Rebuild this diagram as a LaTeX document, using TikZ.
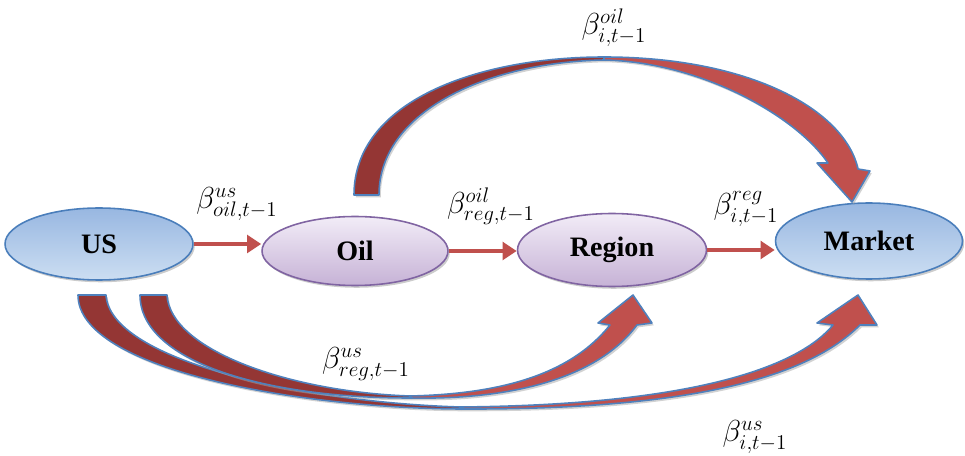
\documentclass[tikz,border=0pt]{standalone}
\usepackage{amsmath}
\usepackage{fontspec}
\setmainfont{Liberation Serif}
\usetikzlibrary{arrows.meta,shapes.geometric,shadows}

\definecolor{bandlight}{RGB}{192,80,77}
\definecolor{banddark}{RGB}{148,54,52}
\definecolor{bandline}{RGB}{79,129,189}
\definecolor{bluetop}{RGB}{152,183,225}
\definecolor{bluebot}{RGB}{204,222,242}
\definecolor{blueline}{RGB}{74,126,187}
\definecolor{purptop}{RGB}{242,236,247}
\definecolor{purpbot}{RGB}{198,178,214}
\definecolor{purpline}{RGB}{128,100,162}

\begin{document}
\begin{tikzpicture}[x=0.02cm,y=-0.02cm,
    bluestate/.style={ellipse,draw=blueline,line width=0.9pt,top color=bluetop,bottom color=bluebot,
      font=\fontsize{16}{19}\selectfont\bfseries,
      drop shadow={shadow xshift=1pt,shadow yshift=-1.3pt,fill=black!40}},
    purpstate/.style={bluestate,draw=purpline,top color=purptop,bottom color=purpbot},
    flow/.style={line width=2.8pt,bandlight,-{Triangle[length=8pt,width=10pt]}},
    band/.style={draw=bandline,line width=0.9pt,line join=round,
      drop shadow={shadow xshift=1pt,shadow yshift=-1.3pt,fill=black!35}},
    lbl/.style={font=\fontsize{17}{20}\selectfont,inner sep=0pt}]

    \useasboundingbox (0,0) rectangle (965,456);

    \node[bluestate,minimum width=3.76cm,minimum height=1.44cm] (us) at (99,244) {US};
    \node[purpstate,minimum width=3.72cm,minimum height=1.38cm] (oil) at (355,251) {Oil};
    \node[purpstate,minimum width=3.78cm,minimum height=1.46cm] (region) at (612,250) {Region};
    \node[bluestate,minimum width=3.74cm,minimum height=1.52cm] (market) at (869,241) {Market};

    \draw[flow] (us.east) -- (us.east -| oil.west);
    \draw[flow] (oil.east) -- (oil.east -| region.west);
    \draw[flow] (region.east) -- (region.east -| market.west);

    % oil -> market, over the top
    \filldraw[band,fill=banddark] (354,195) .. controls (354,100) and (480,57) .. (604,57)
        -- (604,60) .. controls (490,62) and (379,110) .. (379,195) -- cycle;
    \filldraw[band,fill=bandlight] (604,57) .. controls (750,57) and (845,110) .. (858,169)
        -- (870,171) -- (852,202) -- (817,163) -- (828,163)
        .. controls (795,115) and (700,62) .. (604,60) -- cycle;

    % us -> market, underneath
    \filldraw[band,fill=banddark] (78,295) .. controls (78,370) and (300,408) .. (460,409)
        -- (460,407) .. controls (300,402) and (110,360) .. (106,295) -- cycle;
    \filldraw[band,fill=bandlight] (460,407) .. controls (700,405) and (800,365) .. (833,325)
        -- (817,323) -- (858,295) -- (877,325) -- (860,325)
        .. controls (810,375) and (700,410) .. (460,409) -- cycle;

    % us -> region, underneath
    \filldraw[band,fill=banddark] (140,295) .. controls (140,360) and (260,398) .. (410,398)
        -- (410,396) .. controls (290,392) and (170,350) .. (167,295) -- cycle;
    \filldraw[band,fill=bandlight] (410,396) .. controls (500,394) and (570,375) .. (610,325)
        -- (598,323) -- (633,295) -- (652,323) -- (637,325)
        .. controls (600,375) and (520,400) .. (410,398) -- cycle;

    \node[lbl] (b_us_oil) at (237,204) {$\beta^{us}_{oil,t-1}$};
    \node[lbl] (b_oil_reg) at (491,206) {$\beta^{oil}_{reg,t-1}$};
    \node[lbl] (b_reg_i) at (746,209) {$\beta^{reg}_{i,t-1}$};
    \node[lbl] (b_oil_i) at (614,28) {$\beta^{oil}_{i,t-1}$};
    \node[lbl] (b_us_reg) at (366,364) {$\beta^{us}_{reg,t-1}$};
    \node[lbl] (b_us_i) at (755,437) {$\beta^{us}_{i,t-1}$};
\end{tikzpicture}
\end{document}
